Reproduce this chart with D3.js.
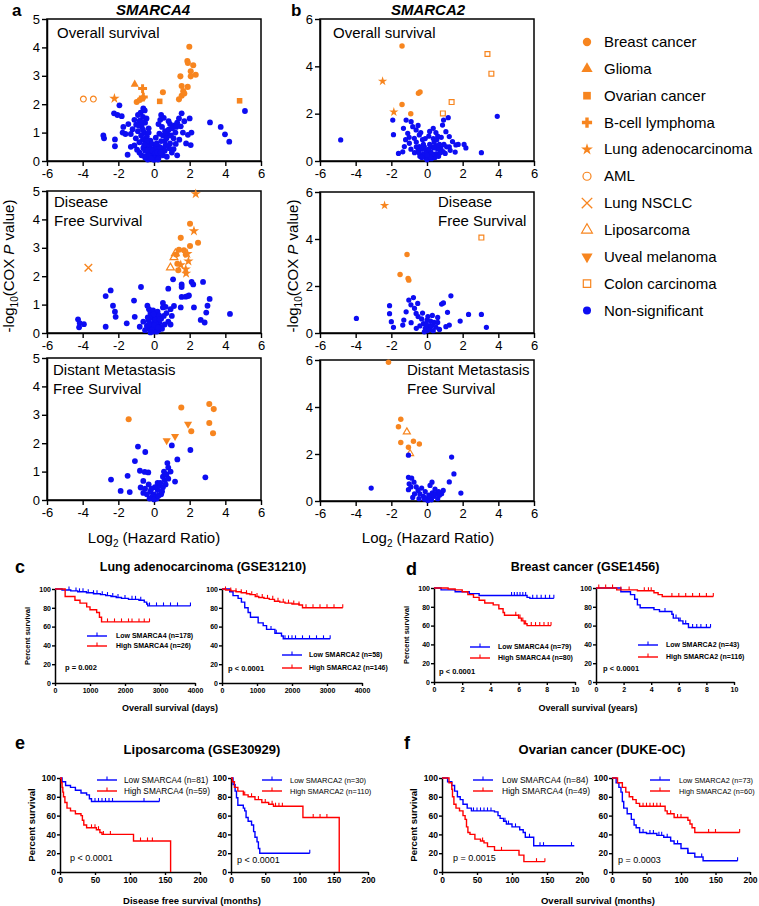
<!DOCTYPE html>
<html><head><meta charset="utf-8">
<script src="https://cdn.jsdelivr.net/npm/d3@7"></script>
<style>body{margin:0;background:#fff} text{font-family:"Liberation Sans",Arial,Helvetica,sans-serif}</style>
</head><body><svg id="fig" width="759" height="906"></svg>
<script>
// ---------------- DATA ----------------
const xTicksHR = [-6,-4,-2,0,2,4,6];
const yTicksA = [0,1,2,3,4,5];
const yTicksB = [0,2,4,6];
const legendItems = [['BC','Breast cancer'],['GL','Glioma'],['OV','Ovarian cancer'],['BL','B-cell lymphoma'],['LA','Lung adenocarcinoma'],['AML','AML'],['NSCLC','Lung NSCLC'],['LIPO','Liposarcoma'],['UM','Uveal melanoma'],['CC','Colon carcinoma'],['NS','Non-significant']];

// SMARCA4 - overall survival
const aOS_sig = [[-3.96,2.18,'AML'],[-3.4,2.18,'AML'],[-2.22,2.2,'LA'],[-1.08,2.7,'GL'],[-0.64,2.55,'BL'],[-0.6,2.25,'BL'],[-0.97,2.08,'BC'],[-0.8,2.15,'BC'],[-0.62,2.22,'BC'],[0.32,2.1,'OV'],[4.8,2.12,'OV'],[0.5,2.42,'BC'],[1.98,4.02,'BC'],[1.87,3.52,'BC'],[1.9,3.45,'BC'],[2.2,3.37,'BC'],[2.06,3.16,'BC'],[2.34,3.04,'BC'],[2.06,2.98,'BC'],[1.48,2.98,'BC'],[1.55,2.64,'BC'],[1.89,2.61,'BC'],[1.64,2.46,'BC'],[1.55,2.3,'BC'],[1.4,2.17,'BC'],[1.7,2.38,'BC']];
const aOS_ns = [[-1.94,1.96],[-2.24,1.68],[-2.05,1.62],[-1.81,1.58],[-2.84,0.9],[-2.8,0.8],[-2.19,0.76],[-2.19,0.52],[-1.48,0.22],[-1.72,1.2],[-1.76,1.0],[-1.44,1.3],[-1.3,0.5],[-1.6,0.95],
[-0.6,1.85],[-0.52,1.78],[-0.75,1.7],[-0.9,1.62],[-0.62,1.55],[-0.42,1.5],[-1.1,1.45],[-0.8,1.42],[-0.5,1.35],[-1.0,1.28],[-0.7,1.22],[-0.3,1.15],[-1.2,1.12],[-0.9,1.05],[-0.55,1.0],[-1.3,0.95],[-0.72,0.9],[-0.4,0.86],[-1.02,0.8],[-0.62,0.76],[-0.2,0.72],[-0.82,0.66],[-0.42,0.62],[-1.1,0.55],[-0.3,0.5],[-0.6,0.46],[-0.15,0.42],[-0.5,0.36],[-0.82,0.3],[-0.32,0.26],[-0.1,0.22],[-0.45,0.16],[-0.22,0.1],[0,0.04],[-0.05,0.32],[0.1,0.16],[-0.25,0.56],[-0.35,0.05],[-0.12,0.6],[-0.5,0.12],[-0.7,0.2],[-0.95,0.4],[-0.35,0.38],[-0.18,0.28],[0.05,0.45],
[-0.28,0.18],[-0.08,0.36],[0.12,0.5],[0.28,0.22],[-0.4,0.7],[-0.62,1.1],[-0.85,1.25],[0.6,0.7],[0.75,0.95],[0.95,0.9],[0.05,0.12],[-0.15,0.08],[0.42,0.45],[0.18,0.4],[-0.55,0.58],[1.4,1.5],[0.25,1.3],[-0.3,1.0],[0.9,1.3],[1.15,1.25],[-0.65,1.35],[0.08,0.28],
[0.2,0.3],[0.3,0.5],[0.15,0.62],[0.4,0.7],[0.5,0.9],[0.3,0.96],[0.62,1.05],[0.82,1.1],[0.45,1.2],[1.02,1.15],[1.2,1.0],[0.7,0.8],[0.9,0.62],[1.1,0.42],[0.6,0.36],[0.35,1.45],[0.4,1.62],[1.3,1.35],[1.5,1.22],[1.62,1.0],[1.42,0.75],[1.8,0.62],[1.9,0.92],[0.82,1.4],[0.25,0.1],[0.5,0.2],[0.72,0.15],[1.0,0.3],[1.22,0.6],[0.55,1.52],[2.0,1.5],[1.55,1.68],[2.06,0.56],[0.1,0.82],[0.22,0.05],[0.38,0.3],[0.85,0.45],[1.3,0.2],[0.65,0.55],[1.1,0.8],[1.7,1.4],[2.1,1.0],[1.25,1.2],
[3.14,1.36],[3.74,1.2],[3.98,0.94],[4.22,0.68],[5.1,1.76]];

// SMARCA4 - disease free survival
const aDFS_sig = [[2.34,4.9,'LA'],[2.24,3.59,'LA'],[2.02,3.85,'BC'],[1.5,3.35,'BC'],[2.47,3.18,'BC'],[2.02,3.06,'BC'],[1.68,2.91,'BC'],[1.4,2.93,'BC'],[1.87,2.79,'LA'],[1.25,2.76,'BC'],[1.12,2.66,'LIPO'],[1.2,2.8,'LIPO'],[1.78,2.76,'BC'],[1.31,2.44,'BC'],[1.5,2.4,'LA'],[1.93,2.53,'LA'],[1.78,2.25,'LA'],[1.8,2.1,'LA'],[0.92,2.3,'LIPO'],[1.36,2.21,'BC'],[-3.68,2.3,'NSCLC']];
const aDFS_ns = [[1.07,1.89],[0.8,1.56],[1.55,1.71],[1.55,1.62],[2.11,1.8],[2.2,1.71],[2.75,1.8],[1.96,1.32],[1.55,1.27],[1.78,1.28],[1.9,1.3],[3.12,1.2],[3.0,0.96],[2.93,0.72],[4.26,0.67],[2.62,0.46],[2.84,0.37],[2.24,0.9],[1.5,0.9],[0.93,0.84],[1.12,0.95],[0.5,1.06],[0.65,0.92],[1.0,0.6],[0.93,0.3],[-0.73,1.62],[-1.12,1.14],[-2.71,1.3],[-2.43,1.5],[-2.3,0.96],[-2.19,0.75],[-2.15,0.57],[-1.53,0.34],[-1.08,0.57],[-0.8,0.22],[-0.37,0.96],[-0.28,0.84],[-4.26,0.48],[-3.93,0.31],[-4.17,0.35],[-2.71,0.22],[-4.2,0.2],
[-0.2,0.7],[0.1,0.65],[-0.1,0.55],[0.2,0.5],[-0.3,0.45],[0,0.4],[0.3,0.35],[-0.15,0.3],[0.15,0.25],[-0.05,0.2],[0.05,0.15],[-0.25,0.15],[0.25,0.1],[0,0.05],[-0.1,0.1],[0.1,0.35],[-0.4,0.25],[0.4,0.5],[0.35,0.2],[-0.35,0.55],[0.6,0.3],[0.7,0.7],[0.8,0.4],[-0.6,0.4],[0.5,0.9],[-0.05,0.8],[0.15,0.05],[-0.2,0.02],[0.45,0.15],[0.55,0.6],[-0.5,0.1],[0.2,0.75],
[-0.12,0.62],[0.08,0.48],[0.28,0.62],[-0.3,0.3],[0.02,0.28],[0.22,0.2],[-0.02,0.66],[0.32,0.48]];

// SMARCA4 - distant metastasis free survival
const aDMFS_sig = [[-1.42,2.84,'BC'],[1.53,3.26,'BC'],[3.1,3.38,'BC'],[3.35,3.2,'BC'],[3.1,2.71,'BC'],[2.09,2.42,'BC'],[3.31,2.35,'BC'],[1.91,2.67,'UM'],[0.71,2.09,'UM'],[1.18,2.24,'UM']];
const aDMFS_ns = [[1.0,1.92],[2.04,1.76],[1.31,1.43],[0.75,1.3],[0.8,1.14],[0.93,1.0],[0.56,1.0],[0.5,0.82],[1.18,0.65],[2.88,0.8],[-0.9,1.88],[-0.49,1.69],[-1.07,1.37],[-0.79,1.03],[-0.52,0.99],[-0.32,0.97],[-1.48,0.85],[-2.41,0.72],[-1.87,0.32],[-1.36,0.28],[-0.6,0.67],[-0.75,0.44],[-0.3,0.55],[-0.5,0.4],[-0.2,0.3],[0,0.2],[0.2,0.35],[-0.1,0.12],[0.1,0.1],[0.3,0.5],[0.4,0.2],[0.2,0.6],[0.5,0.45],[0.6,0.7],[-0.4,0.2],[0.05,0.45],[0.35,0.6],[-0.25,0.05],[0.15,0.05],[0.7,0.9],[0.65,0.55],[-0.6,0.25],[0,0.02],[-0.15,0.4],[0.25,0.15],[0.45,0.3],[0.8,0.75]];

// SMARCA2 - overall survival
const bOS_sig = [[-1.4,4.86,'BC'],[-2.49,3.37,'LA'],[-0.48,2.86,'BC'],[-0.39,2.92,'BC'],[-1.4,2.39,'BC'],[-0.91,2.0,'BC'],[-1.86,2.07,'LA'],[3.39,4.52,'CC'],[3.61,3.69,'CC'],[1.38,2.49,'CC'],[0.89,2.01,'CC']];
const bOS_ns = [[-4.84,0.89],[-1.92,1.73],[-1.88,1.11],[3.94,1.89],[3.05,0.35],[2.08,0.7],[2.18,0.55],[1.19,1.83],[0.93,1.73],[0.87,1.52],[0.35,1.38],[0.5,1.2],[0.15,1.25],[1.06,1.24],[1.25,1.03],[1.43,0.82],[1.62,0.68],[1.75,0.7],[1.25,0.6],[0.78,0.54],[1.02,0.32],[1.58,0.38],[-1.17,1.73],[-0.89,1.66],[-1.32,1.38],[-1.08,1.17],[-0.61,1.31],[-0.43,1.1],[-0.71,0.96],[-0.99,0.75],[-1.27,0.61],[-1.6,0.32],[-1.36,0.39],[-0.43,0.61],[-0.8,1.45],[-0.5,1.5],[-1.0,1.0],[-1.2,0.9],[-0.6,0.8],[-0.9,0.5],[-0.7,0.35],
[-0.3,0.5],[-0.2,0.3],[-0.1,0.15],[0,0.05],[0.1,0.2],[0.2,0.4],[0.3,0.6],[0.4,0.8],[0.5,0.3],[0.6,0.5],[-0.4,0.2],[-0.5,0.45],[0.05,0.35],[-0.15,0.6],[0.7,0.7],[0.8,1.0],[0.6,1.05],[0.25,0.1],[0.45,0.15],[-0.05,0.45],[0.15,0.7],[0.9,0.4],[1.1,0.6],[0.35,0.95],[-0.25,0.9],[-0.35,1.2],[0.65,0.2],
[-0.2,0.7],[0.1,0.5],[0.3,0.3],[-0.45,0.35],[0.5,0.65],[-0.1,0.95],[0.2,0.15],[0.55,0.9],[0.75,0.35],[-0.6,0.6],[0.0,0.25],[0.4,0.55],[-0.3,0.15],[0.1,1.05],[1.3,0.45],[0.95,0.7]];

// SMARCA2 - disease free survival
const bDFS_sig = [[-2.38,5.43,'LA'],[3.05,4.06,'CC'],[-1.12,3.34,'BC'],[-1.51,2.49,'BC'],[-1.06,2.32,'BC'],[-1.02,2.25,'BC']];
const bDFS_ns = [[-3.96,0.62],[1.34,1.58],[0.82,1.23],[0.92,1.28],[2.33,0.79],[3.05,0.79],[3.33,0.24],[-2.1,1.16],[-2.1,0.82],[-2.0,0.48],[-1.88,0.24],[-1.02,1.4],[-0.76,1.51],[-0.52,1.26],[-1.17,0.9],[-0.61,0.83],[-0.89,0.44],[-1.36,0.34],[1.15,0.88],[0.6,0.66],[1.86,0.51],[1.25,0.34],[1.06,0.27],[-0.9,1.2],[-0.7,1.05],[-1.3,0.55],
[-0.5,0.7],[-0.3,0.6],[-0.2,0.4],[-0.1,0.2],[0,0.1],[0.1,0.3],[0.2,0.5],[0.3,0.75],[0.4,0.45],[0.5,0.25],[-0.4,0.3],[0,0.55],[0.15,0.15],[-0.15,0.05],[0.35,0.1],[0.6,0.45],[-0.6,0.2],[0.05,0.7],[-0.25,0.85],[0.25,0.3],[0.7,0.15],[-0.05,0.38]];

// SMARCA2 - distant metastasis free survival
const bDMFS_sig = [[-2.16,5.9,'BC'],[-1.47,3.48,'BC'],[-1.6,3.16,'BC'],[-0.76,2.54,'BC'],[-1.47,2.49,'BC'],[-1.04,2.29,'BC'],[-0.43,2.43,'BC'],[-1.13,2.94,'LIPO'],[-0.95,2.02,'LIPO']];
const bDMFS_ns = [[-1.04,1.95],[1.38,1.87],[1.51,1.15],[1.25,0.81],[1.9,0.34],[-3.13,0.55],[-1.04,1.01],[-0.86,0.97],[-1.0,0.73],[-0.73,0.8],[-1.04,0.48],[0.28,0.8],[0.17,0.66],[0.91,0.45],[0.82,0.31],
[-0.6,0.6],[-0.5,0.45],[-0.4,0.3],[-0.3,0.55],[-0.2,0.2],[-0.1,0.4],[0,0.1],[0.1,0.25],[0.2,0.15],[0.3,0.35],[0.4,0.2],[0.5,0.3],[0.6,0.1],[0.7,0.25],[-0.7,0.3],[-0.8,0.15],[0.05,0.02],[-0.15,0.08],[0.45,0.5],[0.65,0.4],[-0.45,0.1],[0.25,0.05],[-0.9,0.6]];

// Kaplan-Meier step data [time, percent]
const yTicksKM = [0,20,40,60,80,100];
const cL_low = [[0,100],[200,99],[450,98],[650,97],[900,96],[1100,95],[1300,94],[1450,93],[1600,92],[1750,91],[1900,90],[2100,89],[2400,88],[2550,86],[2620,84],[2650,82],[3870,82]];
const cL_lowC = [400,600,700,800,950,1100,1200,1350,1500,1650,1800,2000,2200,2300,2450,2700,2900,3100,3300,3500,3870];
const cL_high = [[0,100],[290,92],[570,88],[714,85],[905,81],[1000,78],[1190,75],[1270,70],[1330,65],[2700,65]];
const cL_highC = [1500,1700,1900,2100,2200,2400,2550,2700];
const cR_low = [[0,100],[220,97],[315,93],[460,90],[555,86],[650,80],[746,75],[813,70],[1033,64],[1177,61],[1273,57],[1512,53],[1700,50],[1750,47],[3090,47]];
const cR_lowC = [1400,1550,1800,1900,2000,2100,2300,2500,2700,2900,3090];
const cR_high = [[0,100],[100,99],[250,98],[400,97],[550,96],[700,95],[800,94],[950,92],[1050,91],[1200,90],[1350,89],[1500,87],[1650,86],[1800,85],[2000,84],[2200,83],[2300,80],[3450,80]];
const cR_highC = [100,250,400,550,700,850,1000,1150,1300,1450,1600,1750,1900,2050,2200,2400,2600,2800,3000,3200,3450];

const dL_low = [[0,100],[0.5,98],[1.5,96],[2.5,94],[3.2,92],[6.6,90],[6.8,89],[8.5,89]];
const dL_lowC = [5.5,5.7,5.9,6.1,6.3,6.5,7.0,7.3,7.6,7.9,8.2,8.5];
const dL_high = [[0,100],[1.0,99],[1.5,98],[2.0,96],[2.4,93],[2.8,90],[3.2,87],[3.6,84],[4.2,82],[4.6,78],[4.9,74],[5.0,71],[6.0,68],[6.2,65],[6.4,62],[6.6,60],[8.3,60]];
const dL_highC = [5.8,6.0,6.1,6.3,6.5,6.9,7.2,7.5,7.8,8.1,8.3];
const dR_low = [[0,100],[1.8,96],[2.5,93],[2.8,88],[3.0,82],[3.2,79],[4.2,77],[4.6,75],[5.5,72],[5.6,68],[6.0,65],[6.3,62],[6.7,58],[8.3,58]];
const dR_lowC = [5.0,5.8,6.1,6.5,7.0,7.3,7.6,8.0,8.3];
const dR_high = [[0,100],[1.5,98],[3.0,97],[4.2,95],[4.5,93],[4.8,91],[8.5,91]];
const dR_highC = [0.2,0.7,1.2,1.8,2.4,3.5,3.8,4.0,5.5,6.0,6.5,7.0,7.5,8.0,8.5];

const eL_low = [[0,100],[3,96],[8,92],[15,90],[22,87],[30,84],[38,82],[42,78],[45,75],[142,75]];
const eL_lowC = [50,55,60,65,70,75,120,142];
const eL_high = [[0,100],[2,95],[3,90],[4,85],[5,80],[7,74],[10,68],[15,65],[22,62],[30,60],[32,55],[34,50],[38,47],[52,45],[57,42],[60,40],[105,33],[158,0]];
const eL_highC = [45,50,55,62,72,115,125,132];
const eR_low = [[0,100],[3,93],[6,86],[8,79],[10,71],[18,68],[20,65],[22,58],[25,54],[30,50],[33,43],[35,37],[38,32],[40,25],[42,20],[115,20]];
const eR_lowC = [115];
const eR_high = [[0,100],[2,96],[5,90],[10,86],[18,82],[25,80],[35,77],[45,74],[55,72],[62,70],[105,58],[158,0]];
const eR_highC = [20,30,40,50,60,65,70,75,120,130,140];

const fL_low = [[0,100],[8,96],[14,92],[18,86],[22,80],[26,77],[30,72],[36,68],[42,65],[75,64],[80,60],[83,57],[88,54],[92,51],[100,48],[111,45],[116,42],[119,37],[131,28],[189,28]];
const fL_lowC = [45,50,55,60,65,70,90,95,105,125,140,145,185];
const fL_high = [[0,100],[10,95],[14,88],[15,80],[17,72],[20,68],[25,65],[30,60],[33,56],[35,48],[37,42],[40,40],[47,35],[55,33],[60,31],[65,27],[75,23],[108,23],[110,18],[117,11],[147,11]];
const fL_highC = [58,85,135,147];
const fR_low = [[0,100],[6,95],[10,90],[13,85],[15,75],[17,68],[22,62],[28,56],[32,50],[35,47],[40,42],[50,41],[65,39],[75,37],[85,33],[90,30],[100,25],[110,20],[120,16],[132,12],[182,12]];
const fR_lowC = [45,55,60,68,72,80,95,110,130,182];
const fR_high = [[0,100],[8,95],[15,90],[20,85],[25,80],[30,77],[35,73],[40,70],[75,70],[77,65],[80,62],[90,58],[108,58],[110,55],[113,51],[116,47],[120,42],[185,42]];
const fR_highC = [45,50,55,60,65,70,85,95,100,140,150,185];

// ---------------- DRAWING ----------------
const ORANGE = '#f7851f', BLUE = '#0d0df2', KBLUE = '#0000ff', KRED = '#ff0000';
const svg = d3.select('#fig');
svg.append('rect').attr('width',759).attr('height',906).attr('fill','#fff');

function marker(g,t,cx,cy,s){
  const col = t==='NS'?BLUE:ORANGE;
  const tr = `translate(${cx},${cy})`;
  if(t==='NSCLC'){
    const r=3.6*s;
    g.append('path').attr('d',`M${-r},${-r}L${r},${r}M${-r},${r}L${r},${-r}`).attr('transform',tr).attr('stroke',col).attr('stroke-width',1.4).attr('fill','none');
    return;
  }
  const def = {BC:[d3.symbolCircle,26,1],GL:[d3.symbolTriangle,26,1],OV:[d3.symbolSquare,28,1],BL:[d3.symbolCross,40,1],LA:[d3.symbolStar,30,1],AML:[d3.symbolCircle,24,0],LIPO:[d3.symbolTriangle,24,0],UM:[d3.symbolTriangle,26,1,180],CC:[d3.symbolSquare,26,0],NS:[d3.symbolCircle,24,1]}[t];
  g.append('path').attr('d',d3.symbol(def[0],def[1]*s*s)())
    .attr('transform',tr+(def[3]?` rotate(${def[3]})`:''))
    .attr('fill',def[2]?col:'none').attr('stroke',def[2]?'none':col).attr('stroke-width',1.2);
}

function styleAxis(sel,fs,bold){
  sel.select('.domain').attr('stroke','#000').attr('stroke-width',1.5);
  sel.selectAll('.tick line').attr('stroke','#000').attr('stroke-width',1.4);
  sel.selectAll('.tick text').attr('fill','#000').style('font-size',fs+'px').style('font-weight',bold?'bold':'normal')
    .style('font-family','"Liberation Sans",Arial,sans-serif');
}

function scatter(c){
  const x = d3.scaleLinear().domain([-6,6]).range([c.x0,c.x1]);
  const y = d3.scaleLinear().domain([0,c.ymax]).range([c.yBot,c.yTop]);
  const g = svg.append('g');
  g.append('rect').attr('x',c.x0).attr('y',c.yTop).attr('width',c.x1-c.x0).attr('height',c.yBot-c.yTop)
    .attr('fill','none').attr('stroke','#000').attr('stroke-width',1.5);
  const xa = g.append('g').attr('transform',`translate(0,${c.yBot})`)
    .call(d3.axisBottom(x).tickValues(xTicksHR).tickSize(5).tickSizeOuter(0).tickPadding(3).tickFormat(d=>String(d)));
  styleAxis(xa,13,false);
  const ya = g.append('g').attr('transform',`translate(${c.x0},0)`)
    .call(d3.axisLeft(y).tickValues(c.yticks).tickSize(5).tickSizeOuter(0).tickPadding(2).tickFormat(d=>String(d)));
  styleAxis(ya,13,false);
  c.sig.forEach(d=>marker(g,d[2],x(d[0]),y(d[1]),c.ms));
  c.ns.forEach(d=>marker(g,'NS',x(d[0]),y(d[1]),c.ms));
  c.title.forEach((t,i)=>g.append('text').attr('x',c.tx).attr('y',c.ty+i*19).text(t).style('font-size','15px'));
}

scatter({x0:47,x1:261,yTop:19,yBot:161,ymax:5,yticks:yTicksA,sig:aOS_sig,ns:aOS_ns,ms:1.05,title:['Overall survival'],tx:57,ty:38});
scatter({x0:47,x1:261,yTop:191,yBot:333,ymax:5,yticks:yTicksA,sig:aDFS_sig,ns:aDFS_ns,ms:1.05,title:['Disease','Free Survival'],tx:54,ty:207});
scatter({x0:47,x1:261,yTop:358,yBot:500,ymax:5,yticks:yTicksA,sig:aDMFS_sig,ns:aDMFS_ns,ms:1.05,title:['Distant Metastasis','Free Survival'],tx:53,ty:375});
scatter({x0:320,x1:534,yTop:19,yBot:161,ymax:6,yticks:yTicksB,sig:bOS_sig,ns:bOS_ns,ms:0.95,title:['Overall survival'],tx:333,ty:38});
scatter({x0:320,x1:534,yTop:192,yBot:333,ymax:6,yticks:yTicksB,sig:bDFS_sig,ns:bDFS_ns,ms:0.95,title:['Disease','Free Survival'],tx:438,ty:207});
scatter({x0:320,x1:534,yTop:360,yBot:501,ymax:6,yticks:yTicksB,sig:bDMFS_sig,ns:bDMFS_ns,ms:0.95,title:['Distant Metastasis','Free Survival'],tx:407,ty:375});

function bold(x,y,t,fs,anchor,italic){
  return svg.append('text').attr('x',x).attr('y',y).attr('text-anchor',anchor||'start').text(t)
   .style('font-size',fs+'px').style('font-weight','bold').style('font-style',italic?'italic':'normal');
}
bold(12,16,'a',17); bold(291,16,'b',17);
bold(153,15,'SMARCA4',15,'middle',true); bold(428,15,'SMARCA2',15,'middle',true);

function ylab(x,cy){
  const t = svg.append('text').attr('transform',`translate(${x},${cy}) rotate(-90)`).attr('text-anchor','middle').style('font-size','15px');
  t.append('tspan').text('-log');
  t.append('tspan').text('10').style('font-size','10px').attr('dy',4);
  t.append('tspan').text('(COX ').attr('dy',-4);
  t.append('tspan').text('P').style('font-style','italic');
  t.append('tspan').text(' value)');
}
ylab(14,266); ylab(298,266);
function xlab(cx,y){
  const t = svg.append('text').attr('x',cx).attr('y',y).attr('text-anchor','middle').style('font-size','15px');
  t.append('tspan').text('Log');
  t.append('tspan').text('2').style('font-size','10px').attr('dy',4);
  t.append('tspan').text(' (Hazard Ratio)').attr('dy',-4);
}
xlab(154,543); xlab(428,543);

// legend
const lg = svg.append('g');
legendItems.forEach((d,i)=>{
  const cy = 42 + i*26.85;
  marker(lg,d[0],587,cy,(d[0]==='LA'||d[0]==='BL')?1.2:1.45);
  lg.append('text').attr('x',604).attr('y',cy+5).text(d[1]).style('font-size','15px');
});

// ---------- KM ----------
function survAt(steps,t){ let s=steps[0][1]; steps.forEach(p=>{ if(p[0]<=t) s=p[1]; }); return s; }
function km(c){
  const x = d3.scaleLinear().domain([0,c.xmax]).range([c.x0,c.x1]);
  const y = d3.scaleLinear().domain([0,100]).range([c.yBot,c.yTop]);
  const g = svg.append('g');
  const xa = g.append('g').attr('transform',`translate(0,${c.yBot})`)
    .call(d3.axisBottom(x).tickValues(c.xticks).tickSize(3).tickSizeOuter(0).tickPadding(2).tickFormat(d=>String(d)));
  styleAxis(xa,c.fs,true);
  const ya = g.append('g').attr('transform',`translate(${c.x0},0)`)
    .call(d3.axisLeft(y).tickValues(yTicksKM).tickSize(3).tickSizeOuter(0).tickPadding(1).tickFormat(d=>String(d)));
  styleAxis(ya,c.fs,true);
  const line = d3.line().x(d=>x(d[0])).y(d=>y(d[1])).curve(d3.curveStepAfter);
  c.curves.forEach(cv=>{
    g.append('path').datum(cv.steps).attr('d',line).attr('fill','none').attr('stroke',cv.color).attr('stroke-width',1.4);
    cv.cens.forEach(t=>{
      const yy = y(survAt(cv.steps,t));
      g.append('line').attr('x1',x(t)).attr('x2',x(t)).attr('y1',yy).attr('y2',yy-3.5).attr('stroke',cv.color).attr('stroke-width',1.1);
    });
  });
  c.legend.forEach((L,i)=>{
    const ly = c.ly + i*c.ldy;
    g.append('line').attr('x1',c.lx).attr('x2',c.lx+20).attr('y1',ly).attr('y2',ly).attr('stroke',L[1]).attr('stroke-width',1.4);
    g.append('line').attr('x1',c.lx+10).attr('x2',c.lx+10).attr('y1',ly).attr('y2',ly-3.5).attr('stroke',L[1]).attr('stroke-width',1.1);
    g.append('text').attr('x',c.lx+c.ltx).attr('y',ly+c.lfs*0.35).text(L[0]).style('font-size',c.lfs+'px').style('font-weight',c.lbold?'bold':'normal');
  });
  g.append('text').attr('x',c.px).attr('y',c.py).text(c.ptext).style('font-size',c.pfs+'px').style('font-weight',c.lbold?'bold':'normal');
  if(c.ylabel){
    g.append('text').attr('transform',`translate(${c.ylx},${(c.yTop+c.yBot)/2}) rotate(-90)`).attr('text-anchor','middle')
      .text('Percent survival').style('font-size',c.ylfs+'px').style('font-weight','bold');
  }
}
const xt4000=[0,1000,2000,3000,4000], xt10=[0,2,4,6,8,10], xt200=[0,50,100,150,200];
// c
km({x0:55,x1:195,yTop:589,yBot:683,xmax:4000,xticks:xt4000,fs:7,curves:[{steps:cL_low,cens:cL_lowC,color:KBLUE},{steps:cL_high,cens:cL_highC,color:KRED}],
  legend:[['Low SMARCA4 (n=178)',KBLUE],['High SMARCA4 (n=26)',KRED]],lx:87,ly:636,ldy:10,ltx:29,lfs:7,lbold:true,px:65,py:670,ptext:'p = 0.002',pfs:7.5,ylabel:true,ylx:30,ylfs:7.5});
km({x0:222,x1:362,yTop:589,yBot:683,xmax:4000,xticks:xt4000,fs:7,curves:[{steps:cR_low,cens:cR_lowC,color:KBLUE},{steps:cR_high,cens:cR_highC,color:KRED}],
  legend:[['Low SMARCA2 (n=58)',KBLUE],['High SMARCA2 (n=146)',KRED]],lx:282,ly:655,ldy:13,ltx:27,lfs:7,lbold:true,px:228,py:671,ptext:'p < 0.0001',pfs:7.5});
// d
km({x0:434,x1:575,yTop:588,yBot:682,xmax:10,xticks:xt10,fs:7,curves:[{steps:dL_low,cens:dL_lowC,color:KBLUE},{steps:dL_high,cens:dL_highC,color:KRED}],
  legend:[['Low SMARCA4 (n=79)',KBLUE],['High SMARCA4 (n=80)',KRED]],lx:470,ly:647,ldy:11,ltx:28,lfs:7,lbold:true,px:439,py:674,ptext:'p < 0.0001',pfs:7.5,ylabel:true,ylx:409,ylfs:7.5});
km({x0:596,x1:734,yTop:588,yBot:682,xmax:10,xticks:xt10,fs:7,curves:[{steps:dR_low,cens:dR_lowC,color:KBLUE},{steps:dR_high,cens:dR_highC,color:KRED}],
  legend:[['Low SMARCA2 (n=43)',KBLUE],['High SMARCA2 (n=116)',KRED]],lx:638,ly:645,ldy:12,ltx:28,lfs:7,lbold:true,px:603,py:671,ptext:'p < 0.0001',pfs:7.5});
// e
km({x0:60,x1:200,yTop:778,yBot:872,xmax:200,xticks:xt200,fs:8.5,curves:[{steps:eL_low,cens:eL_lowC,color:KBLUE},{steps:eL_high,cens:eL_highC,color:KRED}],
  legend:[['Low SMARCA4 (n=81)',KBLUE],['High SMARCA4 (n=59)',KRED]],lx:97,ly:780,ldy:11,ltx:27,lfs:8.3,lbold:false,px:70,py:861,ptext:'p < 0.0001',pfs:9,ylabel:true,ylx:35,ylfs:9.5});
km({x0:231,x1:368,yTop:778,yBot:872,xmax:200,xticks:xt200,fs:8.5,curves:[{steps:eR_low,cens:eR_lowC,color:KBLUE},{steps:eR_high,cens:eR_highC,color:KRED}],
  legend:[['Low SMARCA2 (n=30)',KBLUE],['High SMARCA2 (n=110)',KRED]],lx:262,ly:780,ldy:11,ltx:28,lfs:7.5,lbold:false,px:237,py:863,ptext:'p < 0.0001',pfs:9});
// f
km({x0:442,x1:582,yTop:778,yBot:872,xmax:200,xticks:xt200,fs:8.5,curves:[{steps:fL_low,cens:fL_lowC,color:KBLUE},{steps:fL_high,cens:fL_highC,color:KRED}],
  legend:[['Low SMARCA4 (n=84)',KBLUE],['High SMARCA4 (n=49)',KRED]],lx:473,ly:780,ldy:11,ltx:29,lfs:8.5,lbold:false,px:453,py:861,ptext:'p = 0.0015',pfs:9,ylabel:true,ylx:417,ylfs:9.5});
km({x0:612,x1:750,yTop:778,yBot:872,xmax:200,xticks:xt200,fs:8.5,curves:[{steps:fR_low,cens:fR_lowC,color:KBLUE},{steps:fR_high,cens:fR_highC,color:KRED}],
  legend:[['Low SMARCA2 (n=73)',KBLUE],['High SMARCA2 (n=60)',KRED]],lx:650,ly:780,ldy:11,ltx:29,lfs:7.3,lbold:false,px:618,py:863,ptext:'p = 0.0003',pfs:9});

// KM titles and labels
bold(15,573,'c',18); bold(406,575,'d',18); bold(15,749,'e',18); bold(404,749,'f',18);
bold(203,571,'Lung adenocarcinoma (GSE31210)',12.5,'middle');
bold(585,571,'Breast cancer (GSE1456)',12.5,'middle');
bold(202,754,'Liposarcoma (GSE30929)',13,'middle');
bold(602,754,'Ovarian cancer (DUKE-OC)',13,'middle');
bold(170,711,'Overall survival (days)',9,'middle');
bold(588,711,'Overall survival (years)',9,'middle');
bold(192,904,'Disease free survival (months)',9.5,'middle');
bold(598,904,'Overall survival (months)',9.5,'middle');
</script></body></html>
